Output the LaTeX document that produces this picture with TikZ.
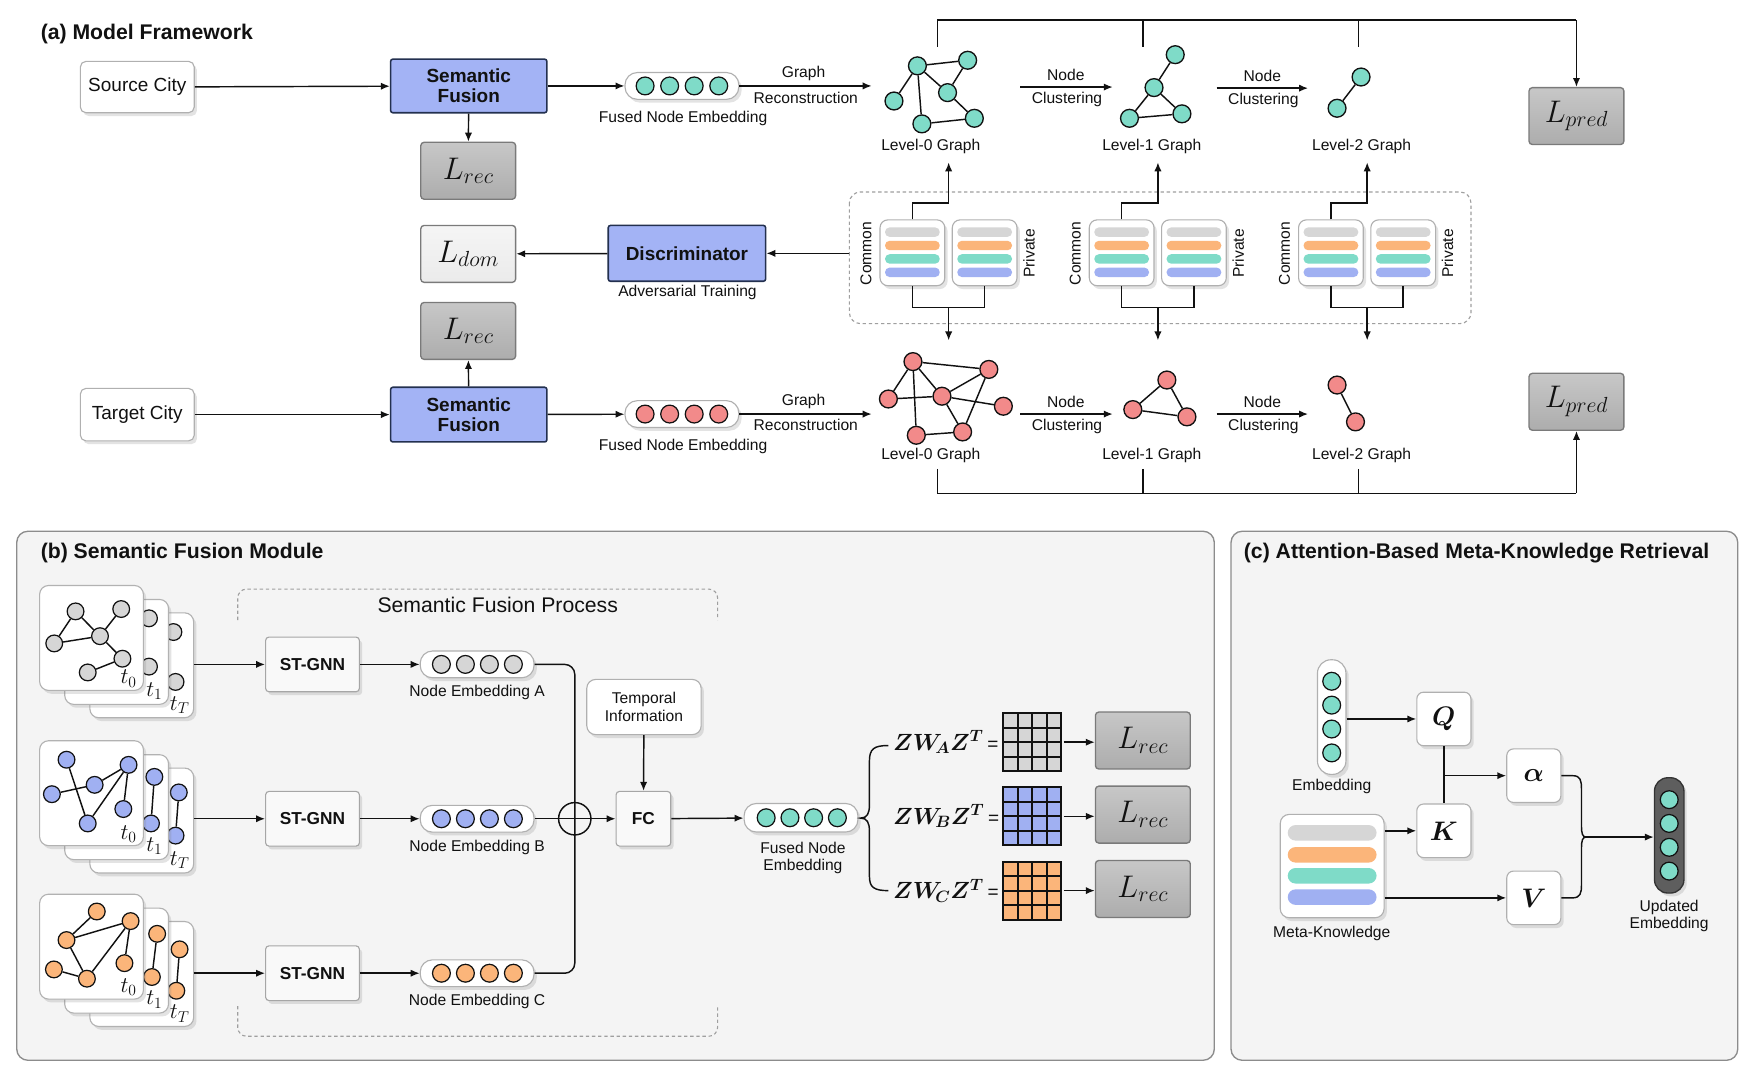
\RequirePackage{fix-cm}
\documentclass[tikz,border=0pt]{standalone}
\usepackage{bm}
\usepackage{fontspec}
\setmainfont{Liberation Sans}
\usetikzlibrary{arrows.meta,shadows}
\definecolor{teal1}{HTML}{7FDBC8}
\definecolor{red1}{HTML}{F28A8A}
\definecolor{blue1}{HTML}{A0B0F2}
\definecolor{orange1}{HTML}{FBB57A}
\definecolor{gray1}{HTML}{D6D6D6}
\definecolor{sfblue}{HTML}{A3B3F5}
\definecolor{sfedge}{HTML}{23304F}
\definecolor{lossedge}{HTML}{7A7A7A}
\definecolor{panelbg}{HTML}{F4F4F4}
\definecolor{paneledge}{HTML}{8C8C8C}
\definecolor{boxedge}{HTML}{B0B0B0}
\definecolor{ink}{HTML}{111111}
\definecolor{darkpill}{HTML}{5E5E5E}
\tikzset{
  every node/.style={font=\fontsize{14}{16}\selectfont, text=ink},
  arr/.style={-{Latex[length=8pt,width=6.5pt]}, line width=1.3pt, draw=ink},
  ln/.style={line width=1.3pt, draw=ink},
  shad/.style={drop shadow={opacity=0.22,shadow xshift=2.5pt,shadow yshift=-3pt}},
  whitebox/.style={draw=boxedge, fill=white, line width=1pt, rounded corners=5pt, shad, inner sep=0pt},
  sfbox/.style={draw=sfedge, fill=sfblue, line width=1.4pt, rounded corners=2pt, inner sep=0pt,
     font=\fontsize{17}{18}\selectfont\bfseries, align=center, minimum width=140pt, minimum height=48pt},
  lossbox/.style={draw=lossedge, top color=lossedge!42, bottom color=lossedge!62, line width=1.2pt, rounded corners=3pt,
     minimum width=85pt, minimum height=51pt, inner sep=0pt, font=\fontsize{28}{30}\selectfont},
  lightloss/.style={lossbox, top color=gray!8, bottom color=gray!16},
  gnode/.style={circle, draw=ink, line width=1.2pt, minimum size=16pt, inner sep=0pt},
  snode/.style={circle, draw=ink, line width=1.1pt, minimum size=15pt, inner sep=0pt},
  emb/.style={circle, draw=ink, line width=1.1pt, minimum size=16pt, inner sep=0pt},
  pill/.style={whitebox, rounded corners=11pt, minimum width=102pt, minimum height=24pt},
  card/.style={whitebox, rounded corners=7pt, minimum width=58pt, minimum height=59pt},
  barx/.style={rounded corners=4pt, minimum width=49pt, minimum height=8.4pt, inner sep=0pt},
  gcard/.style={whitebox, draw=gray!60, rounded corners=8pt, minimum width=93pt, minimum height=94pt},
  stbox/.style={draw=gray!70, fill=gray!5, line width=1pt, rounded corners=3pt, shad, inner sep=0pt,
     font=\fontsize{15.5}{17}\selectfont\bfseries, minimum width=84pt, minimum height=49pt},
  qbox/.style={whitebox, rounded corners=6pt, minimum width=48.5pt, minimum height=48pt, font=\fontsize{24}{26}\selectfont},
  edge/.style={line width=1.3pt, draw=ink},
  tlab/.style={font=\fontsize{20}{21}\selectfont},
}
\begin{document}
\begin{tikzpicture}[x=1pt,y=-1pt]
\useasboundingbox (0,0) rectangle (1568,960);
\fill[white] (0,0) rectangle (1568,960);

% ================= (a) =================
\node[anchor=west, font=\fontsize{19}{21}\selectfont\bfseries] (ta) at (33,30.5) {(a) Model Framework};

\node[whitebox, minimum width=102pt, minimum height=46pt, font=\fontsize{17}{18}\selectfont] (src) at (123,78) {Source City};
\node[sfbox] (sft) at (420,77) {Semantic\\Fusion};
\node[lossbox] (lrt) at (419.5,153) {$L_{rec}$};
\node[pill] (pt) at (611,77) {};
\foreach \i/\x in {1/578,2/600,3/622,4/644} \node[emb, fill=teal1] (pt\i) at (\x,77) {};
\node (ptl) at (612,106) {Fused Node Embedding};
\draw[arr] (src) -- (sft);
\draw[arr] (sft) -- (lrt);
\draw[arr] (sft) -- (pt);
\coordinate (g0t) at (781,77);
\draw[arr] (pt) -- (g0t);
\node (grt) at (720,66) {Graph};
\node (rct) at (722,88) {Reconstruction};

% level-0 top
\node[gnode, fill=teal1] (a1) at (822,59) {};
\node[gnode, fill=teal1] (a2) at (867,54) {};
\node[gnode, fill=teal1] (a3) at (849,83) {};
\node[gnode, fill=teal1] (a4) at (801,90.5) {};
\node[gnode, fill=teal1] (a5) at (826,111) {};
\node[gnode, fill=teal1] (a6) at (873,106) {};
\foreach \p/\q in {a1/a2,a1/a3,a1/a4,a1/a5,a3/a2,a3/a6,a5/a6} \draw[edge] (\p) -- (\q);
\node (l0t) at (834,131) {Level-0 Graph};
\coordinate (nc1s) at (914,78); \coordinate (nc1e) at (997,78);
\draw[arr] (nc1s) -- (nc1e);
\node (nd1) at (955,67) {Node};
\node (cl1) at (956,89) {Clustering};
% level-1 top
\node[gnode, fill=teal1] (b1) at (1053,49) {};
\node[gnode, fill=teal1] (b2) at (1034,78.5) {};
\node[gnode, fill=teal1] (b3) at (1012,106) {};
\node[gnode, fill=teal1] (b4) at (1059,102) {};
\foreach \p/\q in {b1/b2,b2/b3,b2/b4,b3/b4} \draw[edge] (\p) -- (\q);
\node (l1t) at (1032,131) {Level-1 Graph};
\coordinate (nc2s) at (1090,79); \coordinate (nc2e) at (1172,79);
\draw[arr] (nc2s) -- (nc2e);
\node (nd2) at (1131,68) {Node};
\node (cl2) at (1132,90) {Clustering};
% level-2 top
\node[gnode, fill=teal1] (c1) at (1219.5,69) {};
\node[gnode, fill=teal1] (c2) at (1198,97) {};
\draw[edge] (c1) -- (c2);
\node (l2t) at (1220,131) {Level-2 Graph};
% L_pred top
\node[lossbox] (lpt) at (1412.5,104) {$L_{pred}$};
\draw[ln] (840,42) -- (840,18) -- (1412.5,18);
\draw[ln] (1024,42) -- (1024,18);
\draw[ln] (1217,42) -- (1217,18);
\draw[arr] (1412.5,18) -- (lpt.north);

% middle row
\node[lightloss] (ldom) at (419.5,227.5) {$L_{dom}$};
\node[sfbox, minimum width=141pt, minimum height=50pt] (disc) at (615.5,227) {Discriminator};
\node (adv) at (616,262) {Adversarial Training};
\draw[dash pattern=on 3pt off 2.5pt, draw=gray!75, line width=1pt, rounded corners=10pt] (761,172) rectangle (1318,290);
\coordinate (dbl) at (761,227);
\draw[arr] (dbl) -- (disc.east);
\draw[arr] (disc) -- (ldom);
\node[lossbox] (lrm) at (419.5,296.5) {$L_{rec}$};

\foreach \k/\dx in {0/0,1/187.5,2/375} {
  \node[card] (cc\k) at (817.5+\dx,226.5) {};
  \node[card] (cp\k) at (882.25+\dx,226.5) {};
  \foreach \c/\yy in {gray1/208,orange1/220,teal1/232,blue1/244} {
    \node[barx, fill=\c] at (817.5+\dx,\yy) {};
    \node[barx, fill=\c] at (882.25+\dx,\yy) {};
  }
  \node[rotate=90] at (776+\dx,227) {Common};
  \node[rotate=90] at (922+\dx,227) {Private};
  \draw[arr] (cc\k.north) -- (817.5+\dx,182) -- (850+\dx,182) -- (850+\dx,145.5);
  \draw[ln] (cc\k.south) -- (817.5+\dx,275.5) -- (882.25+\dx,275.5) -- (cp\k.south);
  \draw[arr] (850+\dx,275.5) -- (850+\dx,305);
}

% bottom row
\node[whitebox, minimum width=102pt, minimum height=47pt, font=\fontsize{17}{18}\selectfont] (tgt) at (123,371.5) {Target City};
\node[sfbox, minimum height=49pt] (sfb) at (420,371.5) {Semantic\\Fusion};
\node[pill] (pb) at (611,371) {};
\foreach \i/\x in {1/578,2/600,3/622,4/644} \node[emb, fill=red1] (pb\i) at (\x,371) {};
\node (pbl) at (612,400) {Fused Node Embedding};
\draw[arr] (tgt) -- (sfb);
\draw[arr] (sfb) -- (lrm);
\draw[arr] (sfb) -- (pb);
\coordinate (g0b) at (781,371);
\draw[arr] (pb) -- (g0b);
\node (grb) at (720,360) {Graph};
\node (rcb) at (722,381) {Reconstruction};
% level-0 bottom
\node[gnode, fill=red1] (d1) at (818,324) {};
\node[gnode, fill=red1] (d2) at (886,331) {};
\node[gnode, fill=red1] (d3) at (796,357.5) {};
\node[gnode, fill=red1] (d4) at (844,355) {};
\node[gnode, fill=red1] (d5) at (899,364) {};
\node[gnode, fill=red1] (d6) at (821,390) {};
\node[gnode, fill=red1] (d7) at (862.5,387) {};
\foreach \p/\q in {d1/d2,d1/d3,d1/d6,d1/d4,d3/d4,d4/d2,d2/d7,d4/d5,d4/d7,d6/d7} \draw[edge] (\p) -- (\q);
\node (l0b) at (834,408) {Level-0 Graph};
\coordinate (nc3s) at (914,371); \coordinate (nc3e) at (997,371);
\draw[arr] (nc3s) -- (nc3e);
\node (nd3) at (955,360) {Node};
\node (cl3) at (956,382) {Clustering};
\node[gnode, fill=red1] (e1) at (1045.5,340.5) {};
\node[gnode, fill=red1] (e2) at (1015,367) {};
\node[gnode, fill=red1] (e3) at (1063.5,373.5) {};
\foreach \p/\q in {e1/e2,e2/e3,e3/e1} \draw[edge] (\p) -- (\q);
\node (l1b) at (1032,408) {Level-1 Graph};
\coordinate (nc4s) at (1090,371); \coordinate (nc4e) at (1172,371);
\draw[arr] (nc4s) -- (nc4e);
\node (nd4) at (1131,360) {Node};
\node (cl4) at (1132,382) {Clustering};
\node[gnode, fill=red1] (f1) at (1198,345) {};
\node[gnode, fill=red1] (f2) at (1214.5,378) {};
\draw[edge] (f1) -- (f2);
\node (l2b) at (1220,408) {Level-2 Graph};
\node[lossbox] (lpb) at (1412.5,360) {$L_{pred}$};
\draw[ln] (840,420) -- (840,442) -- (1412.5,442);
\draw[ln] (1024,420) -- (1024,442);
\draw[ln] (1217,420) -- (1217,442);
\draw[arr] (1412.5,442) -- (lpb.south);

% ================= (b) =================
\draw[fill=panelbg, draw=paneledge, line width=1.2pt, rounded corners=10pt] (15,476) rectangle (1088,950);
\node[anchor=west, font=\fontsize{19}{21}\selectfont\bfseries] (tb) at (33,495.5) {(b) Semantic Fusion Module};

\draw[dash pattern=on 3pt off 2.5pt, draw=gray!75, line width=1pt, rounded corners=8pt] (213,555.6) -- (213,527.8) -- (643,527.8) -- (643,555.6);
\draw[dash pattern=on 3pt off 2.5pt, draw=gray!75, line width=1pt, rounded corners=8pt] (213,901.4) -- (213,928.5) -- (643,928.5) -- (643,901.4);
\node[font=\fontsize{19}{21}\selectfont] (sfp) at (446,541.7) {Semantic Fusion Process};

% row A stack
\node[gcard] (kA3) at (127,596.1) {};
\node[snode, fill=gray1] (kA3a) at (155.4,566.3) {};
\node[snode, fill=gray1] (kA3b) at (157.3,611) {};
\node[tlab] at (161,631.6) {$t_T$};
\node[gcard] (kA2) at (104.5,584.1) {};
\node[snode, fill=gray1] (kA2a) at (133.5,554) {};
\node[snode, fill=gray1] (kA2b) at (133.5,597.3) {};
\node[tlab] at (138.3,619) {$t_1$};
\node[gcard] (kA1) at (82,571.6) {};
\node[snode, fill=gray1] (ga1) at (67.7,547.8) {};
\node[snode, fill=gray1] (ga2) at (108.6,545.7) {};
\node[snode, fill=gray1] (ga3) at (89.6,570) {};
\node[snode, fill=gray1] (ga4) at (48.6,576.5) {};
\node[snode, fill=gray1] (ga5) at (109.7,590.2) {};
\node[snode, fill=gray1] (ga6) at (78.6,602.5) {};
\foreach \p/\q in {ga1/ga4,ga1/ga3,ga4/ga3,ga3/ga2,ga3/ga5,ga5/ga6} \draw[edge] (\p) -- (\q);
\node[tlab] at (115.2,608) {$t_0$};

% row B stack
\node[gcard] (kB3) at (127,735.2) {};
\node[snode, fill=blue1] (kB3a) at (160.2,710) {};
\node[snode, fill=blue1] (kB3b) at (157.3,748.7) {};
\draw[edge] (kB3a) -- (kB3b);
\node[tlab] at (161,770.7) {$t_T$};
\node[gcard] (kB2) at (104.5,723.2) {};
\node[snode, fill=blue1] (kB2a) at (138.3,696.1) {};
\node[snode, fill=blue1] (kB2b) at (135.3,737.8) {};
\draw[edge] (kB2a) -- (kB2b);
\node[tlab] at (138.3,758.1) {$t_1$};
\node[gcard] (kB1) at (82,710.7) {};
\node[snode, fill=blue1] (gb1) at (59.6,680.7) {};
\node[snode, fill=blue1] (gb2) at (115.2,685.3) {};
\node[snode, fill=blue1] (gb3) at (84.8,703.2) {};
\node[snode, fill=blue1] (gb4) at (46.5,711.6) {};
\node[snode, fill=blue1] (gb5) at (110.5,724.9) {};
\node[snode, fill=blue1] (gb6) at (78.6,737.8) {};
\foreach \p/\q in {gb1/gb6,gb4/gb3,gb3/gb2,gb2/gb6,gb2/gb5} \draw[edge] (\p) -- (\q);
\node[tlab] at (115.2,747.1) {$t_0$};

% row C stack
\node[gcard] (kC3) at (127,872.7) {};
\node[snode, fill=orange1] (kC3a) at (160.9,850.6) {};
\node[snode, fill=orange1] (kC3b) at (158,887.7) {};
\draw[edge] (kC3a) -- (kC3b);
\node[tlab] at (161,908.2) {$t_T$};
\node[gcard] (kC2) at (104.5,860.7) {};
\node[snode, fill=orange1] (kC2a) at (140.8,836.7) {};
\node[snode, fill=orange1] (kC2b) at (136.1,875.4) {};
\draw[edge] (kC2a) -- (kC2b);
\node[tlab] at (138.3,895.6) {$t_1$};
\node[gcard] (kC1) at (82,848.2) {};
\node[snode, fill=orange1] (gc1) at (86.7,816.7) {};
\node[snode, fill=orange1] (gc2) at (117,825.3) {};
\node[snode, fill=orange1] (gc3) at (59.6,842.3) {};
\node[snode, fill=orange1] (gc4) at (111.5,863) {};
\node[snode, fill=orange1] (gc5) at (48.3,868.6) {};
\node[snode, fill=orange1] (gc6) at (77.9,876.9) {};
\foreach \p/\q in {gc1/gc3,gc3/gc2,gc3/gc6,gc6/gc2,gc5/gc6,gc2/gc4} \draw[edge] (\p) -- (\q);
\node[tlab] at (115.2,884.6) {$t_0$};

% ST-GNN and embeddings
\foreach \r/\yy/\col in {A/595.3/gray1,B/733.6/blue1,C/872/orange1} {
  \coordinate (st\r) at (173.5,\yy);
  \node[stbox] (sg\r) at (280,\yy) {ST-GNN};
  \node[pill] (pe\r) at (427.5,\yy) {};
  \foreach \i/\x in {1/395.5,2/417,3/438.5,4/460} \node[emb, fill=\col] (pe\r\i) at (\x,\yy) {};
  \draw[arr] (st\r) -- (sg\r);
  \draw[arr] (sg\r) -- (pe\r);
  \node (pl\r) at (427.5,\yy+25.3) {Node Embedding \r};
}
\draw[ln, rounded corners=9pt] (peA.east) -- (515,595.3) -- (515,872) -- (peC.east);
\node[circle, draw=ink, line width=1.3pt, minimum size=29pt, inner sep=0pt] (op) at (515,733.6) {};
\node[stbox, minimum width=49pt] (fc) at (576.5,733.6) {FC};
\draw[ln] (peB.east) -- (op.center);
\draw[arr] (op.center) -- (fc.west);
\node[whitebox, rounded corners=8pt, minimum width=102.5pt, minimum height=49.5pt, align=center] (tmp) at (577,633.5) {Temporal\\Information};
\draw[arr] (tmp) -- (fc);
\node[pill, minimum height=25.6pt] (fu) at (717.7,732.7) {};
\foreach \i/\x in {1/686.5,2/707.8,3/729,4/750.3} \node[emb, fill=teal1] (fu\i) at (\x,732.7) {};
\draw[arr] (fc) -- (fu);
\node[align=center, font=\fontsize{14}{15.5}\selectfont] (ful) at (719.4,769) {Fused Node\\Embedding};
\draw[ln] (796,668) .. controls (783,668) and (779,671) .. (779,682) -- (779,721) .. controls (779,729) and (777,733) .. (771,733) .. controls (777,733) and (779,737) .. (779,745) -- (779,785) .. controls (779,795) and (783,798) .. (796,798);

% matrices
\foreach \r/\yt/\col in {A/639/gray1,B/705.4/blue1,C/772/orange1} {
  \fill[\col] (899,\yt) rectangle (951,\yt+52);
  \foreach \k in {13,26,39} {
    \draw[line width=1.6pt, draw=ink] (899+\k,\yt) -- (899+\k,\yt+52);
    \draw[line width=1.6pt, draw=ink] (899,\yt+\k) -- (951,\yt+\k);
  }
  \draw[line width=1.9pt, draw=ink] (899,\yt) rectangle (951,\yt+52);
  \node[anchor=west, font=\fontsize{21}{23}\selectfont, inner sep=0pt] (fm\r) at (800,\yt+26) {$\bm{ZW_{\!\r}Z^{T}}$\,{\fontsize{17}{18}\selectfont =}};
  \coordinate (mx\r) at (953,\yt+26);
  \node[lossbox] (lr\r) at (1024,\yt+24.5) {$L_{rec}$};
  \draw[arr] (mx\r) -- (lr\r.west |- mx\r);
}

% ================= (c) =================
\draw[fill=panelbg, draw=paneledge, line width=1.2pt, rounded corners=10pt] (1103,476) rectangle (1557,950);
\node[anchor=west, font=\fontsize{19}{21}\selectfont\bfseries] (tc) at (1111,495.5) {(c) Attention-Based Meta-Knowledge Retrieval};

\node[whitebox, rounded corners=12pt, minimum width=25.5pt, minimum height=102.7pt] (ec) at (1193.2,642.5) {};
\foreach \i/\yy in {1/610.4,2/631.8,3/653.2,4/674.6} \node[emb, fill=teal1] (ec\i) at (1193.2,\yy) {};
\node (ecl) at (1193.2,705) {Embedding};
\node[whitebox, rounded corners=8pt, minimum width=93pt, minimum height=92.6pt] (mk) at (1193.6,776) {};
\foreach \c/\yy in {gray1/746.2,orange1/765.9,teal1/784.7,blue1/803.8} \node[barx, fill=\c, rounded corners=7pt, minimum width=79.6pt, minimum height=13.9pt] at (1193.6,\yy) {};
\node (mkl) at (1193.2,836.2) {Meta-Knowledge};

\node[qbox] (qq) at (1293.7,644.2) {$\bm{Q}$};
\node[qbox] (kk) at (1293.7,744.4) {$\bm{K}$};
\node[qbox] (al) at (1374.3,695) {$\bm{\alpha}$};
\node[qbox] (vv) at (1374.3,804.5) {$\bm{V}$};
\draw[arr] (ec.east |- qq.west) -- (qq.west);
\draw[arr] (mk.east |- kk.west) -- (kk.west);
\draw[arr] (mk.east |- vv.west) -- (vv.west);
\draw[ln] (qq.south) -- (kk.north);
\draw[arr] (qq.south |- al.west) -- (al.west);

\node[draw=black!80, fill=darkpill, line width=1.2pt, rounded corners=12pt, minimum width=26.4pt, minimum height=103.3pt, inner sep=0pt, shad] (up) at (1495.6,748.5) {};
\foreach \i/\yy in {1/716.5,2/737.8,3/759.2,4/780.5} \node[emb, fill=teal1] (up\i) at (1495.6,\yy) {};
\node[align=center, font=\fontsize{14}{15.5}\selectfont] (upl) at (1495.5,821) {Updated\\Embedding};

\draw[ln] (al.east) -- (1409,695) .. controls (1416,695) and (1417,699) .. (1417,707) -- (1417,740) .. controls (1417,747) and (1418,750) .. (1421,750);
\draw[ln] (vv.east) -- (1409,804.5) .. controls (1416,804.5) and (1417,800) .. (1417,793) -- (1417,760) .. controls (1417,753) and (1418,750) .. (1421,750);
\coordinate (jn) at (1421,750);
\draw[arr] (jn) -- (up.west |- jn);
\end{tikzpicture}
\end{document}
